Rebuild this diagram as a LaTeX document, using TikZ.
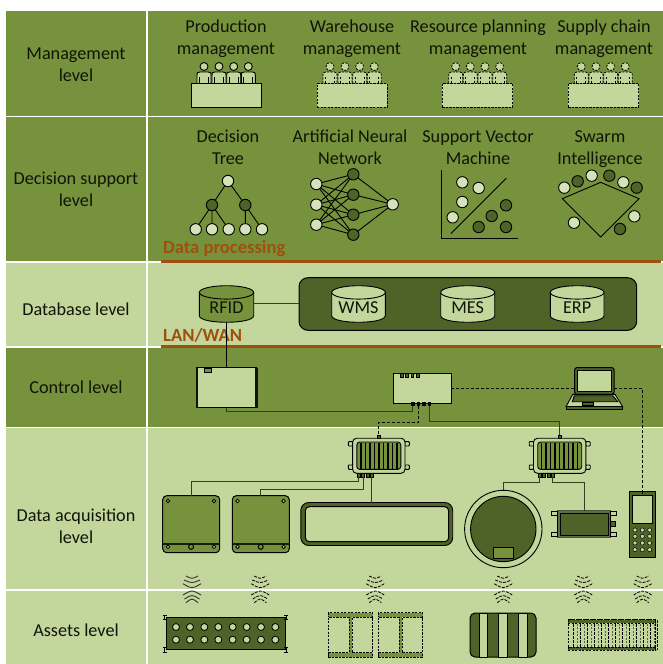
\documentclass[tikz,border=0pt]{standalone}
\usepackage{fontspec}
\setmainfont{Carlito}
\usetikzlibrary{calc}
\definecolor{gmid}{HTML}{76923C}
\definecolor{glight}{HTML}{C3D69C}
\definecolor{gdark}{HTML}{4F6228}
\definecolor{brownln}{HTML}{A04F0F}
\definecolor{wirec}{HTML}{33401A}
\definecolor{inkc}{HTML}{111408}
\tikzset{
 lbl/.style={font=\fontsize{18.2}{22}\selectfont,text=inkc,align=center,inner sep=0pt},
 brn/.style={font=\fontsize{18.6}{22}\selectfont\bfseries,text=brownln,anchor=west,inner sep=0pt},
 band/.style={fill=#1,draw=none},
 ln/.style={draw=black,line width=0.9pt},
 dsh/.style={draw=black,line width=0.8pt,dash pattern=on 2.2pt off 1.3pt},
 wire/.style={draw=wirec,line width=0.9pt},
 dwire/.style={draw=black,line width=0.8pt,dash pattern=on 3pt off 2pt},
 brule/.style={draw=brownln,line width=3pt},
 ball/.style={circle,draw=black,line width=0.9pt,inner sep=0,outer sep=0,minimum size=11.4pt},
 ballL/.style={ball,fill=glight!70!white},
 ballD/.style={ball,fill=gdark},
 hole/.style={circle,draw=black,line width=0.8pt,fill=glight,inner sep=0,minimum size=#1},
 hole/.default=7pt
}
\newcommand\boxn[6]{%
 \pgfmathsetmacro\bxw{(#4)-(#2)}\pgfmathsetmacro\bxh{(#5)-(#3)}%
 \node[inner sep=0,outer sep=0,minimum width=\bxw pt,minimum height=\bxh pt,#6] (#1) at ({((#2)+(#4))/2},{((#3)+(#5))/2}) {};}
\newcommand\persons[2]{% x-list style
 \foreach \px in {#1}{%
  \draw[#2,fill=glight] ({\px-7},83) -- ({\px-7},75) .. controls ({\px-7},72.5) .. ({\px-4},72) -- ({\px+4},72) .. controls ({\px+7},72.5) .. ({\px+7},75) -- ({\px+7},83);
  \draw[#2] ({\px-4.5},77) -- ({\px-4.5},83) ({\px+4.5},77) -- ({\px+4.5},83);
  \draw[#2,fill=glight] (\px,66.5) circle[radius=4pt];
 }}
\newcommand\cyl[7]{% name x1 x2 ytop ybot fill text
 \pgfmathsetmacro\cyr{6.7}%
 \draw[ln,fill=#6] (#2,{#4+\cyr}) -- (#2,{#5-\cyr}) .. controls (#2,{#5+2.2}) and (#3,{#5+2.2}) .. (#3,{#5-\cyr}) -- (#3,{#4+\cyr});
 \draw[ln,fill=#6] ({(#2+#3)/2},{#4+\cyr}) ellipse[x radius={(#3-#2)/2},y radius=\cyr];
 \boxn{#1}{#2}{#4}{#3}{#5}{}
 \node[lbl] (#1t) at ({(#2+#3)/2},{#5-14.7}) {#7};}
\newcommand\gateway[2]{% name cx
 \pgfmathsetmacro\gc{#2}%
 \foreach \sx in {-1,1}\foreach \ey in {443.8,467.2}{
  \draw[ln,fill=glight,rounded corners=0.8pt] ({\gc+\sx*26},{\ey-2.2}) rectangle ({\gc+\sx*30.5},{\ey+2.2});}
 \boxn{#1}{\gc-26.2}{438.2}{\gc+26.2}{473.3}{draw=black,line width=0.9pt,fill=glight,rounded corners=4pt}
 \boxn{#1i}{\gc-22}{442}{\gc+22}{469.4}{draw=black,line width=0.9pt,fill=gmid,rounded corners=3pt}
 \foreach \sx in {-18,-13.5,...,18}{\draw[draw=black,line width=1.5pt] ({\gc+\sx},442.5) -- ({\gc+\sx},469);}
 \boxn{#1T}{\gc-1.5}{435}{\gc+1.5}{438.2}{draw=black,line width=0.7pt,fill=gdark}
 \boxn{#1a}{\gc-21.5}{473.3}{\gc-18.5}{477}{draw=black,line width=0.6pt,fill=gdark}
 \boxn{#1b}{\gc-17.2}{473.3}{\gc-14.2}{477}{draw=black,line width=0.6pt,fill=gdark}
 \boxn{#1c}{\gc-12.9}{473.3}{\gc-9.9}{477}{draw=black,line width=0.6pt,fill=gdark}
 \boxn{#1d}{\gc-8.5}{473.3}{\gc-5.5}{477}{draw=black,line width=0.6pt,fill=gdark}}
\newcommand\sensor[2]{% name x1
 \pgfmathsetmacro\sa{#2}%
 \boxn{#1}{\sa}{495.7}{\sa+57}{552.7}{draw=black,line width=1pt,fill=gmid,rounded corners=4pt}
 \draw[draw=black!70!gdark,line width=1.6pt] (\sa+0.5,543.7) -- (\sa+56.5,543.7);
 \foreach \hx/\hy in {5.3/501,51.3/501,5.3/546.8,51.3/546.8}{\node[hole=3.6pt,draw=black] at (\sa+\hx,\hy) {};}
 \node[hole=5pt,fill=gmid,line width=1pt] at (\sa+28.4,546.8) {};}
\newcommand\waves[2]{%
 \foreach \ww/\ea/\cc in {6/576/579,8/580/583.4,9/583.7/589,9/595/589.6,7.5/599/594.4,6/602.7/597.9}{
  \draw[#2] ({#1-\ww},\ea) .. controls (#1,\cc) .. ({#1+\ww},\ea);}}
\begin{document}
\begin{tikzpicture}[x=1pt,y=-1pt]
\useasboundingbox (0,0) rectangle (663,664);
\fill[white] (0,0) rectangle (663,664);
% bands
\boxn{rowAl}{6}{11}{146}{115.7}{band=gmid}
\boxn{rowAr}{148}{11}{663}{115.7}{band=gmid}
\boxn{rowBl}{6}{117}{146}{261}{band=gmid}
\boxn{rowBr}{148}{117}{663}{261}{band=gmid}
\boxn{rowCl}{6}{263}{146}{346}{band=glight}
\boxn{rowCr}{148}{263}{663}{346}{band=glight}
\boxn{rowDl}{6}{348}{146}{426.8}{band=gmid}
\boxn{rowDr}{148}{348}{663}{426.8}{band=gmid}
\boxn{rowEl}{6}{427.8}{146}{589}{band=glight}
\boxn{rowEr}{148}{427.8}{663}{589}{band=glight}
\boxn{rowFl}{6}{591}{146}{664}{band=glight}
\boxn{rowFr}{148}{591}{663}{664}{band=glight}
% left labels
\node[lbl] (lA) at (76,64.5) {Management\\level};
\node[lbl] (lB) at (76,189) {Decision support\\level};
\node[lbl] (lC) at (76,309) {Database level};
\node[lbl] (lD) at (76,387) {Control level};
\node[lbl] (lE) at (76,526) {Data acquisition\\level};
\node[lbl] (lF) at (76,630) {Assets level};
% management titles
\node[lbl] (m1) at (226,38.7) {Production\\management};
\node[lbl] (m2) at (352,38.7) {Warehouse\\management};
\node[lbl] (m3) at (478,38.7) {Resource planning\\management};
\node[lbl] (m4) at (604,38.7) {Supply chain\\management};
\persons{204,219,233.7,248.3}{ln}
\boxn{t1}{191.5}{83.5}{261.5}{107}{draw=black,line width=1pt,fill=glight}
\persons{330,345,359.7,374.3}{dsh}
\boxn{t2}{317}{83.5}{387}{107}{dsh,fill=glight}
\persons{455.7,470.3,485,499.7}{dsh}
\boxn{t3}{442.3}{83.5}{512.7}{107}{dsh,fill=glight}
\persons{581.3,596,610.7,625.3}{dsh}
\boxn{t4}{568.3}{83.5}{638.7}{107}{dsh,fill=glight}
% decision support titles
\node[lbl] (d1) at (228,147.5) {Decision\\Tree};
\node[lbl] (d2) at (350,147.5) {Artificial Neural\\Network};
\node[lbl] (d3) at (478,147.5) {Support Vector\\Machine};
\node[lbl] (d4) at (600,149.3) {Swarm\\Intelligence};
% tree
\node[ballL] (tr) at (228,181) {};
\node[ballD] (ta) at (212,205) {};
\node[ballD] (tb) at (245.3,205) {};
\node[ballL] (l1) at (195.7,229.3) {};
\node[ballL] (l2) at (212,229.3) {};
\node[ballL] (l3) at (228.7,229.3) {};
\node[ballL] (l4) at (245.3,229.3) {};
\node[ballL] (l5) at (262,229.3) {};
\draw[ln] (tr)--(ta) (tr)--(tb) (ta)--(l1) (ta)--(l2) (ta)--(l3) (tb)--(l4) (tb)--(l5);
% ann
\node[ballL] (i1) at (316.3,184) {};
\node[ballL] (i2) at (316.3,204.7) {};
\node[ballL] (i3) at (316.3,224.7) {};
\node[ballD] (h1) at (353.3,174.3) {};
\node[ballD] (h2) at (353.3,194.7) {};
\node[ballD] (h3) at (353.3,214.7) {};
\node[ballD] (h4) at (353.3,234.7) {};
\node[ballL] (o1) at (392.7,204.3) {};
\foreach \a in {1,2,3}\foreach \b in {1,2,3,4}{\draw[ln] (i\a)--(h\b);}
\foreach \b in {1,2,3,4}{\draw[ln] (h\b)--(o1);}
% svm
\coordinate (ax1) at (441.7,170.3);
\coordinate (ax2) at (441.7,238);
\coordinate (ax3) at (517.7,238);
\coordinate (dg1) at (450.7,233.7);
\coordinate (dg2) at (506.3,178.3);
\draw[ln] (ax1)--(ax2)--(ax3);
\draw[ln] (dg1)--(dg2);
\foreach \x/\y in {157/187,206/204,157/246,128/292}{\node[ballL] at ({410+\x/3},{120+\y/3}) {};}
\foreach \x/\y in {288/256,245/288,206/321,288/321}{\node[ballD] at ({410+\x/3},{120+\y/3}) {};}
% swarm
\draw[ln] ({410+457/3},{120+236/3}) -- ({410+572/3},{120+187/3}) -- ({410+687/3},{120+236/3}) -- ({410+572/3},{120+351/3}) -- cycle;
\foreach \x/\y in {463/203,545/167,640/187,673/289,492/308}{\node[ballL] at ({410+\x/3},{120+\y/3}) {};}
\foreach \x/\y in {503/184,598/167,680/203,630/327}{\node[ballD] at ({410+\x/3},{120+\y/3}) {};}
% brown rules
\coordinate (r1a) at (161,261); \coordinate (r1b) at (661,261);
\coordinate (r2a) at (161,346.7); \coordinate (r2b) at (661,346.7);
\draw[brule] (r1a)--(r1b);
\node[brn] (dp) at (163,249) {Data processing};
% database level
\boxn{dbg}{299}{277.7}{636.7}{330.3}{draw=black,line width=1pt,fill=gdark,rounded corners=9pt}
\cyl{rfid}{199.3}{253.7}{285.7}{322.3}{gmid}{RFID}
\cyl{wms}{331.7}{385.3}{285.7}{322.3}{glight}{WMS}
\cyl{mes}{440.7}{494.7}{285.7}{322.3}{glight}{MES}
\cyl{erp}{550.3}{604}{285.7}{322.3}{glight}{ERP}
\draw[wire] (rfid.east |- 0,303.7) -- (dbg.west |- 0,303.7);
\draw[brule] (r2a)--(r2b);
\node[brn] (lw) at (163,335) {LAN/WAN};
% control level
\boxn{ctl}{196.7}{367.7}{256.3}{407.7}{draw=black,line width=1pt,fill=glight}
\draw[draw=black!80!gdark,line width=2.4pt] (ctl.north west) -- (ctl.south west) (ctl.north east) -- (ctl.south east);
\boxn{ctlp}{204.3}{368.3}{211.7}{372}{draw=black,line width=0.7pt,fill=gmid}
\draw[draw=black,line width=0.9pt] (rfid.south) -- (ctl.north);
\boxn{sw}{393.7}{373}{451}{403.7}{draw=black,line width=1pt,fill=glight}
\foreach \n/\x in {a/401.7,b/407,c/412.3,d/418}{\boxn{swt\n}{\x-1.4}{373}{\x+1.4}{377}{draw=black,line width=0.6pt,fill=gdark}}
\foreach \n/\x in {a/412.7,b/418.3,c/423.7,d/429.3}{\boxn{swb\n}{\x-1.3}{402.5}{\x+1.3}{405.5}{draw=black,line width=0.5pt,fill=black}}
% laptop
\boxn{lap}{574.7}{367.7}{614}{394.3}{draw=black,line width=1pt,fill=gdark,rounded corners=2pt}
% gateways
\gateway{gwa}{378.8}
\gateway{gwb}{559.7}
% control wires
\draw[wire] (ctl.south) -- (ctl.south |- 0,411) -| (swba.south);
\draw[dwire] (swbb.south) -- (swbb.south |- 0,422.3) -| (gwaT.north);
\draw[wire] (swbd.south) -- (swbd.south |- 0,421.7) -| (gwbT.north);
\draw[dwire] (sw.east) -- (sw.east -| lap.west);
\draw[dwire] (sw.east -| lap.east) -| (642.3,495);
% laptop details
\boxn{lapi}{577.3}{370}{611.7}{391}{draw=black,line width=0.8pt,fill=glight}
\draw[ln,fill=glight] (572.7,394.3) -- (615,394.3) -- (622.7,406.7) -- (566,406.7) -- cycle;
\draw[ln,fill=gdark] (574.3,395.7) -- (612.7,395.7) -- (617.7,401.7) -- (572.3,401.7) -- cycle;
\draw[draw=black,fill=gdark,line width=0.5pt] (582.3,402.5) rectangle (593.3,405);
\draw[ln,fill=gdark] (566,406.7) rectangle (622.7,409.3);
% sensors
\sensor{sa}{162.7}
\sensor{sb}{232.3}
\boxn{ring}{300.8}{502.5}{452.7}{545.5}{draw=black,line width=0.9pt,fill=gdark,rounded corners=8pt}
\boxn{ringi}{305.3}{506.7}{448.7}{541.7}{draw=black,line width=1pt,fill=glight,rounded corners=4pt}
\node[circle,draw=black,line width=0.9pt,fill=glight,inner sep=0,outer sep=0,minimum size=77.4pt] (circA) at (503.3,529) {};
\node[circle,draw=black,line width=0.9pt,fill=gdark,inner sep=0,outer sep=0,minimum size=65.4pt] (circB) at (503.3,529) {};
\boxn{circP}{493.3}{547}{513.3}{558.3}{draw=black,line width=0.9pt,fill=gmid}
% device
\foreach \sx/\ey in {551.7/513.6,551.7/534.3,610.3/513.6,610.3/534.3}{
 \draw[ln,fill=glight] (\sx,{\ey-2.3}) rectangle ({\sx+5.7},{\ey+2.3});}
\boxn{dev}{557.7}{510.7}{610.3}{537.3}{draw=black!60!glight,line width=1pt,fill=black!50!glight}
\boxn{devi}{560}{513}{608.3}{535}{draw=black,line width=0.9pt,fill=gdark}
\draw[ln] (dev.north west) -- (dev.south west) (dev.north east) -- (dev.south east);
\boxn{devp}{610}{521.7}{615.7}{526}{draw=black,line width=0.8pt,fill=gdark}
% phone
\boxn{ph}{629}{491}{655.7}{557}{draw=black,line width=1pt,fill=gdark}
\boxn{phs}{632.7}{495.7}{652.3}{523.3}{draw=black,line width=0.8pt,fill=glight}
\draw[dwire] (642.3,491) -- (642.3,495);
\foreach \x in {635,642.3,649.7}\foreach \y in {530,536.3,543,549.7}{\node[hole=4.2pt,line width=0.5pt] at (\x,\y) {};}
% acquisition wires
\draw[wire] (gwaa.south) -- (gwaa.south |- 0,481.7) -| (sa.north);
\draw[wire] (gwab.south) -- (gwab.south |- 0,489.3) -| (sb.north);
\draw[wire] (gwad.south) -- (gwad.south |- ring.north);
\draw[wire] (gwba.south) -- (gwba.south |- 0,482) -| (circA.north);
\draw[wire] (gwbd.south) -- (gwbd.south |- 0,482) -| (dev.north);
% waves
\waves{192}{draw=black!80,line width=0.9pt}
\foreach \wx in {260.3,375.3,503.3,583.3,642.7}{\waves{\wx}{draw=black,line width=0.8pt,dash pattern=on 3pt off 1.2pt}}
% assets: panel
\boxn{pan}{166}{617}{285.7}{649.3}{draw=black,line width=1pt,fill=gdark}
\foreach \x in {78,120,163,205,248,290,333,376}\foreach \y in {627,639.7}{\node[hole=7pt] at ({150+\x/3},\y) {};}
\foreach \x/\y in {164.7/617.3,286/617.3,164.7/650,286/650}{
 \draw[draw=black,line width=0.9pt] ({\x-1.8},{\y-2.2}) -- ({\x+1.8},{\y-2.2}) (\x,{\y-2.2}) -- (\x,{\y+2.2}) ({\x-1.8},{\y+2.2}) -- ({\x+1.8},{\y+2.2});}
% assets: beams
\boxn{bA}{328.3}{612.7}{372.7}{657.3}{dsh,fill=gmid}
\boxn{bAa}{328.3}{617.3}{349}{652.7}{dsh,fill=glight}
\boxn{bAb}{352.3}{617.3}{372.7}{652.7}{dsh,fill=glight}
\boxn{bB}{378.3}{612.7}{422.7}{657.3}{dsh,fill=gmid}
\boxn{bBa}{378.3}{617.3}{399}{652.7}{dsh,fill=glight}
\boxn{bBb}{402.3}{617.3}{422.7}{652.7}{dsh,fill=glight}
% assets: rounded block
\boxn{blk}{470}{613}{536}{657}{draw=black,line width=1pt,fill=gdark,rounded corners=5pt}
\foreach \a/\b in {479/487.3,498.7/507.3,518.7/527.3}{\draw[draw=black,line width=0.9pt,fill=glight] (\a,613) rectangle (\b,657);}
% assets: rail
\boxn{rail}{568}{619.7}{655.7}{650.3}{dsh}
\foreach \i in {0,...,12}{
 \draw[draw=black,line width=0.8pt,dash pattern=on 3pt off 1pt] ({573.5+\i*7},620) -- ({573.5+\i*7},650);
 \ifnum\i<12 \draw[draw=black!55!glight,line width=1pt,dash pattern=on 2pt off 1.5pt] ({577+\i*7},620) -- ({577+\i*7},650); \fi}
\fill[gdark] (568,619.7) rectangle (655.7,623.2);
\fill[gdark] (568,647) rectangle (655.7,650.3);
\draw[dsh] (568,619.7) rectangle (655.7,623.2);
\draw[dsh] (568,647) rectangle (655.7,650.3);
\end{tikzpicture}
\end{document}
